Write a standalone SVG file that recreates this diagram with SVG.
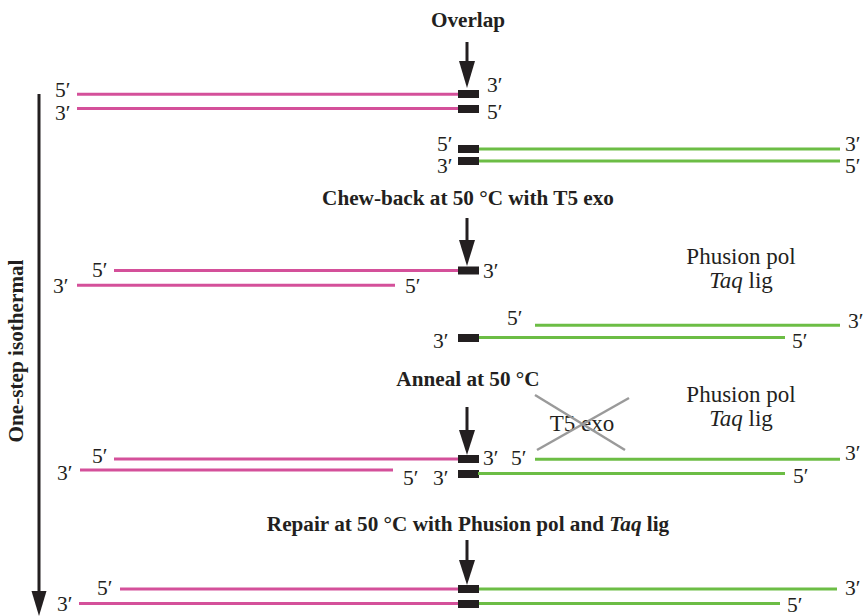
<svg xmlns="http://www.w3.org/2000/svg" width="865" height="616" viewBox="0 0 865 616">
<style>
text { font-family: "Liberation Serif", "Times New Roman", serif; fill: #231f20; }
.t { font-size: 21.2px; font-weight: bold; text-anchor: middle; }
.l { font-size: 21.5px; }
.c { font-size: 23px; text-anchor: middle; }
.pk { stroke: #d4509a; stroke-width: 3; fill: none; }
.gr { stroke: #6cbd45; stroke-width: 3; fill: none; }
.blk { fill: #231f20; }
.ar { stroke: #231f20; stroke-width: 3; fill: none; }
.ah { fill: #231f20; }
.x { stroke: #9a9a9a; stroke-width: 2.5; }
</style>
<rect width="865" height="616" fill="#ffffff"/>

<g id="side-label">
<text class="t" transform="translate(23,351) rotate(-90)">One-step isothermal</text>
</g>

<g id="step-overlap">
<text class="t" x="468" y="27">Overlap</text>
<line class="pk" x1="77" y1="94.3" x2="459" y2="94.3"/>
<line class="pk" x1="77" y1="108.5" x2="459" y2="108.5"/>
<rect class="blk" x="458" y="90" width="21" height="8"/>
<rect class="blk" x="458" y="105" width="21" height="8"/>
<text class="l" x="55" y="97">5′</text>
<text class="l" x="55" y="120">3′</text>
<text class="l" x="487" y="92">3′</text>
<text class="l" x="487" y="119">5′</text>
<line class="gr" x1="478" y1="149" x2="840" y2="149"/>
<line class="gr" x1="478" y1="161" x2="840" y2="161"/>
<rect class="blk" x="458" y="145" width="21" height="8"/>
<rect class="blk" x="458" y="157" width="21" height="8"/>
<text class="l" x="437" y="151">5′</text>
<text class="l" x="437" y="173">3′</text>
<text class="l" x="845" y="151">3′</text>
<text class="l" x="845" y="173">5′</text>
</g>

<g id="step-chewback">
<text class="t" x="468" y="205">Chew-back at 50 °C with T5 exo</text>
<line class="pk" x1="114" y1="270.5" x2="459" y2="270.5"/>
<line class="pk" x1="77" y1="285.3" x2="395" y2="285.3"/>
<rect class="blk" x="458" y="266.5" width="21" height="8"/>
<text class="l" x="92" y="277">5′</text>
<text class="l" x="53" y="293">3′</text>
<text class="l" x="405" y="293">5′</text>
<text class="l" x="483" y="278">3′</text>
<line class="gr" x1="535" y1="325.3" x2="840" y2="325.3"/>
<line class="gr" x1="478" y1="337.5" x2="785" y2="337.5"/>
<rect class="blk" x="458" y="334" width="21" height="8"/>
<text class="l" x="433" y="348">3′</text>
<text class="l" x="507" y="325">5′</text>
<text class="l" x="848" y="328">3′</text>
<text class="l" x="792" y="348">5′</text>
<text class="c" x="741" y="264">Phusion pol</text>
<text class="c" x="741" y="288"><tspan font-style="italic">Taq</tspan> lig</text>
</g>

<g id="step-anneal">
<text class="t" x="468" y="386">Anneal at 50 °C</text>
<line class="pk" x1="114" y1="459" x2="459" y2="459"/>
<line class="pk" x1="80" y1="470" x2="393" y2="470"/>
<rect class="blk" x="458" y="455" width="21" height="8"/>
<rect class="blk" x="458" y="470" width="21" height="8"/>
<text class="l" x="92" y="463">5′</text>
<text class="l" x="57" y="480">3′</text>
<text class="l" x="403" y="485">5′</text>
<text class="l" x="433" y="485">3′</text>
<text class="l" x="483" y="465">3′</text>
<text class="l" x="511" y="465">5′</text>
<line class="gr" x1="535" y1="459.3" x2="840" y2="459.3"/>
<line class="gr" x1="478" y1="473.5" x2="785" y2="473.5"/>
<text class="l" x="845" y="460">3′</text>
<text class="l" x="793" y="483">5′</text>
<text class="c" x="582" y="431">T5 exo</text>
<line class="x" x1="535" y1="395" x2="625" y2="450"/>
<line class="x" x1="629" y1="398" x2="537" y2="450"/>
<text class="c" x="741" y="402">Phusion pol</text>
<text class="c" x="741" y="426"><tspan font-style="italic">Taq</tspan> lig</text>
</g>

<g id="step-repair">
<text class="t" x="468" y="531">Repair at 50 °C with Phusion pol and <tspan font-style="italic">Taq</tspan> lig</text>
<line class="pk" x1="120" y1="589" x2="459" y2="589"/>
<line class="pk" x1="79" y1="603.5" x2="459" y2="603.5"/>
<line class="gr" x1="478" y1="589" x2="837" y2="589"/>
<line class="gr" x1="478" y1="603.5" x2="780" y2="603.5"/>
<rect class="blk" x="458" y="585" width="21" height="8"/>
<rect class="blk" x="458" y="600" width="21" height="8"/>
<text class="l" x="97" y="595">5′</text>
<text class="l" x="57" y="611">3′</text>
<text class="l" x="845" y="595">3′</text>
<text class="l" x="787" y="612">5′</text>
</g>

<g id="connectors">
<line class="ar" x1="467" y1="42" x2="467" y2="63"/>
<polygon class="ah" points="459,61 475,61 467,88"/>
<line class="ar" x1="467" y1="218" x2="467" y2="242"/>
<polygon class="ah" points="459,240 475,240 467,266"/>
<line class="ar" x1="467" y1="407" x2="467" y2="432"/>
<polygon class="ah" points="459,430 475,430 467,455"/>
<line class="ar" x1="467" y1="540" x2="467" y2="562"/>
<polygon class="ah" points="459,560 475,560 467,585"/>
<line class="ar" x1="39" y1="94" x2="39" y2="594"/>
<polygon class="ah" points="31.5,591 46.5,591 39,616"/>
</g>
</svg>
